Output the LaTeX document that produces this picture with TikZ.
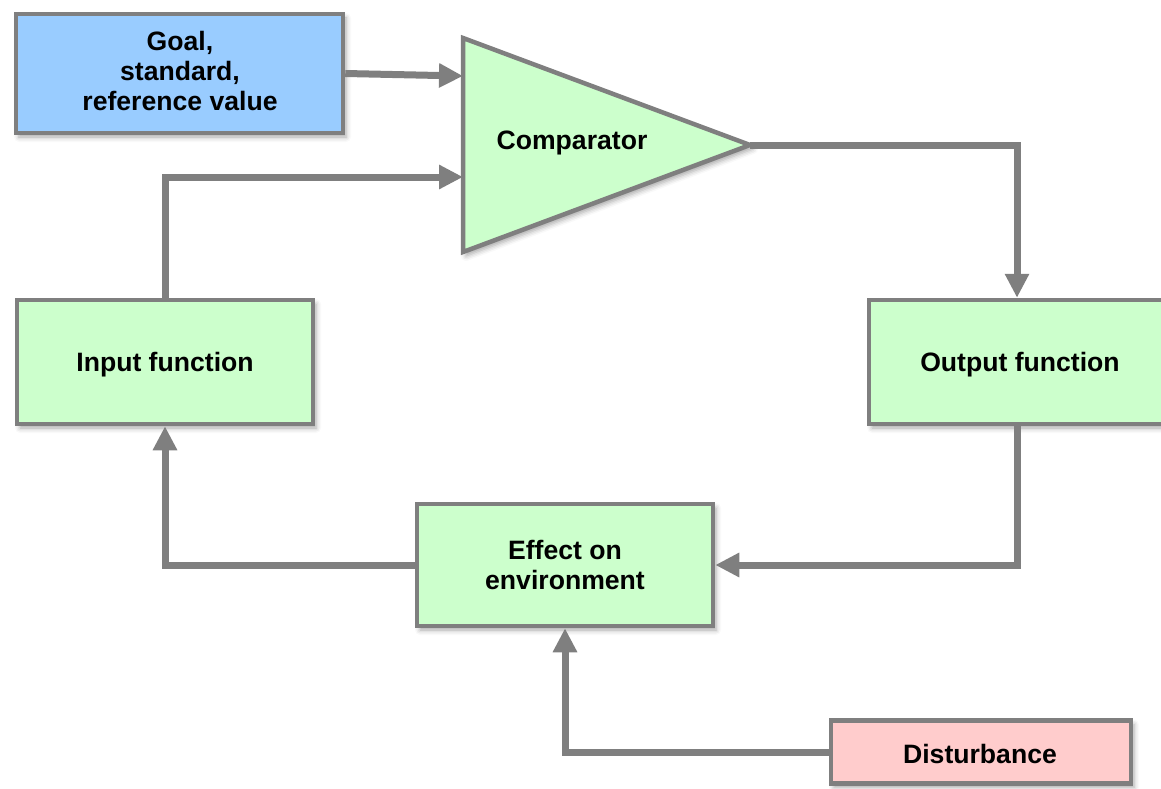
\documentclass[tikz,border=0pt]{standalone}
\usepackage{fontspec}
\setmainfont{Liberation Sans}
\usetikzlibrary{arrows.meta,shadows.blur}
\definecolor{edgegray}{HTML}{7F7F7F}
\definecolor{goalblue}{HTML}{99CCFF}
\definecolor{blockgreen}{HTML}{CCFFCC}
\definecolor{distpink}{HTML}{FFCCCC}
\tikzset{
  softshadow/.style={blur shadow={shadow xshift=3pt,shadow yshift=-4pt,shadow blur radius=5pt,shadow opacity=35}},
  labelfont/.style={font=\fontsize{26.6}{30}\selectfont\bfseries,align=center,inner sep=0pt},
  block/.style={draw=edgegray,line width=4.5pt,fill=blockgreen,softshadow},
  conn/.style={draw=edgegray,line width=7pt,
    -{Triangle[length=24pt,width=23pt]}},
}
\begin{document}
\begin{tikzpicture}[x=1pt,y=-1pt]
\useasboundingbox (0,0) rectangle (1161,789);

% blocks
\node[block,fill=goalblue,minimum width=327pt,minimum height=119pt] (goal) at (179.5,73.5) {};
\node[block,minimum width=296pt,minimum height=124pt] (input) at (165,362) {};
\node[block,minimum width=296pt,minimum height=124pt] (output) at (1017,362) {};
\node[block,minimum width=296pt,minimum height=122pt] (effect) at (565,565) {};
\node[block,fill=distpink,minimum width=300pt,minimum height=63pt] (dist) at (981,752) {};

% comparator triangle
\coordinate (cmpTop) at (463,38);
\coordinate (cmpBot) at (463,252);
\coordinate (cmpTip) at (750,145);
\coordinate (cmpA) at (463,76);
\coordinate (cmpB) at (463,177);
\draw[draw=edgegray,line width=4.5pt,fill=blockgreen,line join=miter,softshadow]
  (cmpTop) -- (cmpTip) -- (cmpBot) -- cycle;

% labels
\node[labelfont] (goaltext) at (180,70.5) {Goal,\\standard,\\reference value};
\node[labelfont] (cmptext) at (572,142.5) {Comparator};
\node[labelfont] (inputtext) at (165,365) {Input function};
\node[labelfont] (outputtext) at (1020,365) {Output function};
\node[labelfont] (effecttext) at (565,565) {Effect on\\environment};
\node[labelfont] (disttext) at (980,753.5) {Disturbance};

% connectors
\draw[conn] (goal.east) -- (cmpA);
\draw[conn] (input.north) |- (cmpB);
\draw[conn] (cmpTip) -| (output.north);
\draw[conn] (output.south) |- (effect.east);
\draw[conn] (effect.west) -| (input.south);
\draw[conn] (dist.west) -| (effect.south);
\end{tikzpicture}
\end{document}
